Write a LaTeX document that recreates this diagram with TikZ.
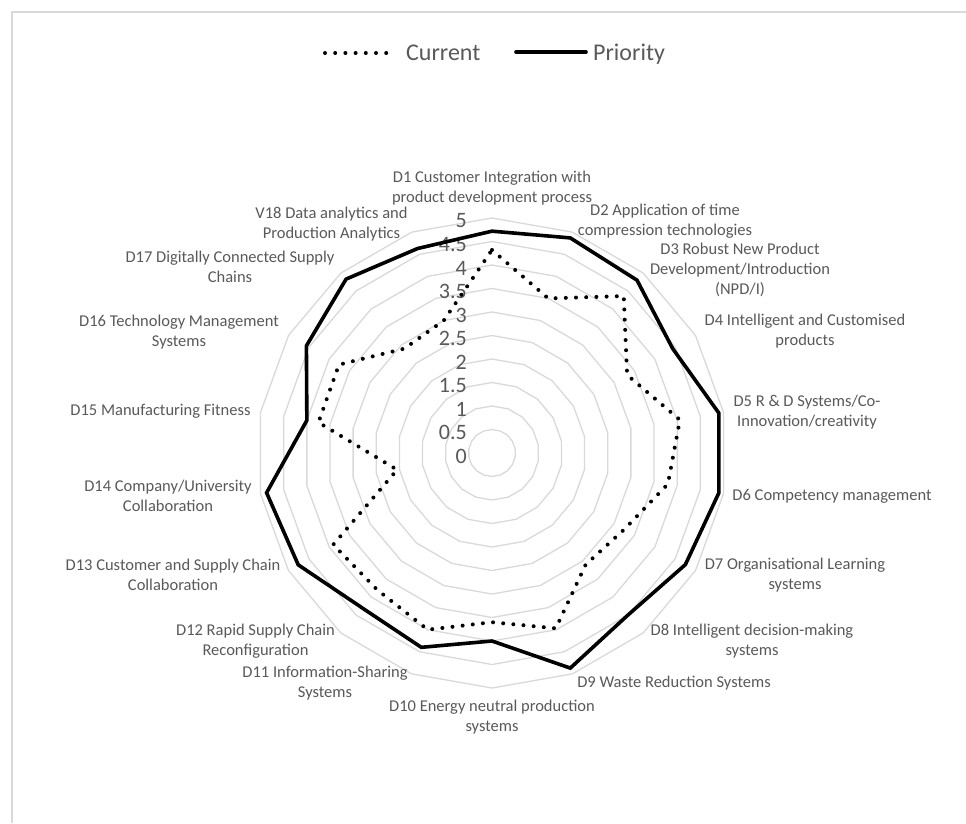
\documentclass[tikz,border=0pt]{standalone}
\usepackage{fontspec}
\setmainfont{Carlito}
\definecolor{txtgray}{HTML}{595959}
\definecolor{gridgray}{HTML}{D9D9D9}
\begin{document}
\begin{tikzpicture}[x=1pt,y=-1pt,
  lbl/.style={text=txtgray, font=\fontsize{16.5}{20}\selectfont, align=center, inner sep=0pt},
  ticklbl/.style={text=txtgray, font=\fontsize{22}{24}\selectfont, anchor=east, inner sep=0pt},
  leglbl/.style={text=txtgray, font=\fontsize{24}{26}\selectfont, anchor=base west, inner sep=0pt},
  ring/.style={draw=gridgray, line width=1.3pt},
  frameline/.style={draw=gridgray, line width=1.5pt},
  prio/.style={draw=black, line width=3.6pt, line join=miter},
  curr/.style={draw=black, line width=4pt, line cap=round, dash pattern=on 0pt off 10.2pt}]
\useasboundingbox (0,0) rectangle (966,823);
\fill[white] (0,0) rectangle (966,823);
\coordinate (fbl) at (12,823);
\coordinate (ftl) at (12,12);
\coordinate (ftr) at (966,12);
\draw[frameline] (fbl) -- (ftl) -- (ftr);

% rings
\begin{scope}[shift={(492,453)}]
\foreach \i in {1,...,10} {
  \draw[ring] (-90:{\i*23.5}) \foreach \j in {1,...,17} { -- ({-90+\j*20}:{\i*23.5}) } -- cycle;
}
\end{scope}

% tick labels
\foreach \v [count=\i from 0] in {0,0.5,1,1.5,2,2.5,3,3.5,4,4.5,5}
  \node[ticklbl] (t\i) at (467,{456-\i*23.5}) {\v};

% category labels
\node[lbl] (d1)  at (492,188)   {D1 Customer Integration with\\product development process};
\node[lbl] (d2)  at (665,221.5) {D2 Application of time\\compression technologies};
\node[lbl] (d3)  at (740,269.5) {D3 Robust New Product\\Development/Introduction\\(NPD/I)};
\node[lbl] (d4)  at (805,331)   {D4 Intelligent and Customised\\products};
\node[lbl] (d5)  at (807,412)   {D5 R \& D Systems/Co-\\Innovation/creativity};
\node[lbl] (d6)  at (832,496)   {D6 Competency management};
\node[lbl] (d7)  at (795,575.5) {D7 Organisational Learning\\systems};
\node[lbl] (d8)  at (752,641)   {D8 Intelligent decision-making\\systems};
\node[lbl] (d9)  at (674,683)   {D9 Waste Reduction Systems};
\node[lbl] (d10) at (492,717.5) {D10 Energy neutral production\\systems};
\node[lbl] (d11) at (325,683)   {D11 Information-Sharing\\Systems};
\node[lbl] (d12) at (255.5,641) {D12 Rapid Supply Chain\\Reconfiguration};
\node[lbl] (d13) at (173,575)   {D13 Customer and Supply Chain\\Collaboration};
\node[lbl] (d14) at (168,496)   {D14 Company/University\\Collaboration};
\node[lbl] (d15) at (160.5,411) {D15 Manufacturing Fitness};
\node[lbl] (d16) at (179,331.7) {D16 Technology Management\\Systems};
\node[lbl] (d17) at (230,267)   {D17 Digitally Connected Supply\\Chains};
\node[lbl] (d18) at (331.5,224) {V18 Data analytics and\\Production Analytics};

% data series
\begin{scope}[shift={(492,453)}]
\foreach \v [count=\k] in {4.72,4.87,4.8,4.44,4.9,4.9,4.75,4.5,4.87,4.0,4.4,4.3,4.76,4.87,4.0,4.56,4.83,4.63}
  \coordinate (p\k) at ({-90+(\k-1)*20}:{\v*47});
\foreach \v [count=\k] in {4.32,3.5,4.36,3.32,4.06,3.8,3.25,3.1,3.97,3.6,4.0,3.8,3.9,2.05,3.75,3.76,2.9,3.0}
  \coordinate (c\k) at ({-90+(\k-1)*20}:{\v*47});
\end{scope}
\draw[curr] (c1) \foreach \k in {2,...,18} { -- (c\k) } -- cycle;
\draw[prio] (p1) \foreach \k in {2,...,18} { -- (p\k) } -- cycle;

% legend
\coordinate (lc1) at (325,53);
\coordinate (lc2) at (394,53);
\coordinate (lp1) at (516,52);
\coordinate (lp2) at (586,52);
\draw[curr] (lc1) -- (lc2);
\draw[prio, line cap=round] (lp1) -- (lp2);
\node[leglbl] (lgc) at (406,60.5) {Current};
\node[leglbl] (lgp) at (593,60.5) {Priority};
\end{tikzpicture}
\end{document}
